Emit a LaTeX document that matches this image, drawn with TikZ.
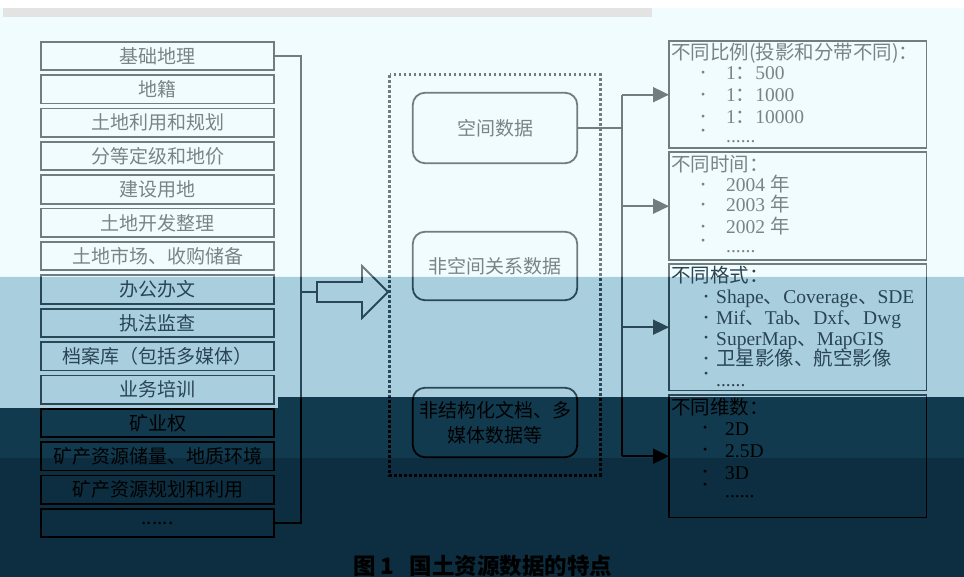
\documentclass[tikz,border=0pt]{standalone}
\usepackage{fontspec}
\setmainfont{Liberation Serif}
\newfontfamily\cjk{Noto Sans CJK SC}
\usetikzlibrary{arrows.meta}
\definecolor{bgA}{HTML}{F0FCFD}
\definecolor{bgB}{HTML}{A9CFDF}
\definecolor{bgC}{HTML}{113A4E}
\definecolor{bgD}{HTML}{0C2E40}
\definecolor{lnA}{HTML}{727D7F}
\definecolor{lnB}{HTML}{2A4755}
\definecolor{lnC}{HTML}{000000}
\definecolor{txA}{HTML}{7A8486}
\definecolor{txB}{HTML}{2A4452}
\definecolor{txC}{HTML}{000000}
\definecolor{strip}{HTML}{E3E3E3}
\colorlet{ln}{lnA}
\newcommand\mydots{......}
\newcommand\bul[1]{\makebox[#1][l]{\raisebox{0.16em}{\scalebox{0.6}{\textbullet}}}}
\begin{document}
\begin{tikzpicture}[x=1pt,y=-1pt,
 lbox/.style={minimum width=233pt, minimum height=28pt, inner sep=0pt, font=\cjk\fontsize{19}{21}\selectfont},
 sbox/.style={minimum width=164pt, inner sep=0pt, align=center, font=\cjk\fontsize{19}{25}\selectfont},
 pbox/.style={inner sep=0pt, minimum width=257pt, anchor=north west},
 tl/.style={anchor=base west, inner sep=0pt, font=\fontsize{19.5}{21}\selectfont},
 frame/.style={draw=ln, line width=1.8pt},
 conn/.style={draw=ln, line width=1.8pt},
 arr/.style={conn, -{Triangle[length=16pt,width=15pt]}},
 dots/.style={draw=ln, line width=3pt, dash pattern=on 2.8pt off 2.2pt},
]
\useasboundingbox (0,0) rectangle (964,577);
% scan colour bands (background)
\fill[white] (0,0) rectangle (964,8);
\fill[bgA] (0,8) rectangle (964,277);
\fill[bgB] (0,277) -- (964,277) -- (964,397) -- (278,397) -- (278,408) -- (0,408) -- cycle;
\fill[bgC] (0,408) -- (278,408) -- (278,397) -- (964,397) -- (964,458) -- (0,458) -- cycle;
\fill[bgD] (0,458) rectangle (964,577);
\fill[strip] (3,8) rectangle (652,17);

% left column of boxes
\foreach \t [count=\i] in {基础地理,地籍,土地利用和规划,分等定级和地价,建设用地,土地开发整理,土地市场、收购储备}
  \node[lbox, text=txA] (b\i) at (157.5,{56+33.36*(\i-1)}) {\t};
\foreach \t [count=\i from 8] in {办公办文,执法监查,档案库（包括多媒体）,业务培训}
  \node[lbox, text=txB] (b\i) at (157.5,{56+33.36*(\i-1)}) {\t};
\foreach \t [count=\i from 12] in {矿业权,矿产资源储量、地质环境,矿产资源规划和利用,\mydots}
  \node[lbox, text=txC] (b\i) at (157.5,{56+33.36*(\i-1)}) {\t};

\coordinate (ba) at (301,292);
\coordinate (bb) at (317,292);

% group of data types
\node[minimum width=210pt, minimum height=400pt, inner sep=0pt] (grp) at (495,275) {};
\node[sbox, minimum height=70pt, text=txA] (s1) at (495,128) {空间数据};
\node[sbox, minimum height=68pt, text=txA] (s2) at (495,266) {非空间关系数据};
\node[sbox, minimum height=69pt, text=txC] (s3) at (495,422.5) {非结构化文档、多\\媒体数据等};

% right boxes
\node[pbox, minimum height=107pt] (rA) at (669,41) {};
\node[pbox, minimum height=108pt] (rB) at (669,152) {};
\node[pbox, minimum height=126pt] (rC) at (669,264) {};
\node[pbox, minimum height=122pt] (rD) at (669,395) {};
\coordinate (bus) at (622,0);

\newcommand\lineart{%
  \foreach \i in {1,...,15} \draw[frame] (b\i.north west) rectangle (b\i.south east);
  \draw[conn] (b1.east) -- ++(27,0) |- (b15.east);
  \draw[conn] (ba) -- (bb);
  \draw[conn, line join=miter] (bb) ++(0,-10) -- ++(45,0) -- ++(0,-16) -- ++(26,26) -- ++(-26,26) -- ++(0,-16) -- ++(-45,0) -- cycle;
  \draw[dots] (grp.north west) rectangle (grp.south east);
  \foreach \s in {s1,s2,s3} \draw[frame, rounded corners=12pt] (\s.north west) rectangle (\s.south east);
  \foreach \r in {rA,rB,rC,rD} \draw[frame] (\r.north west) rectangle (\r.south east);
  \draw[conn] (s1.east) -- (s1.east -| bus);
  \draw[conn] (rA.west -| bus) -- (rD.west -| bus);
  \foreach \r in {rA,rB,rC,rD} \draw[arr] (\r.west -| bus) -- (\r.west);
}
\begin{scope}
  \colorlet{ln}{lnA}
  \clip (0,0) rectangle (964,277);
  \lineart
\end{scope}
\begin{scope}
  \colorlet{ln}{lnB}
  \clip (0,277) -- (964,277) -- (964,397) -- (278,397) -- (278,408) -- (0,408) -- cycle;
  \lineart
\end{scope}
\begin{scope}
  \colorlet{ln}{lnC}
  \clip (0,408) -- (278,408) -- (278,397) -- (964,397) -- (964,577) -- (0,577) -- cycle;
  \lineart
\end{scope}

% texts of box A
\begin{scope}[every node/.append style={text=txA}]
\node[tl] (a0) at (671,60) {\cjk 不同比例(投影和分带不同)：};
\node[tl] (a1) at (701,80) {\bul{25pt}1{\cjk ：}500};
\node[tl] (a2) at (701,102) {\bul{25pt}1{\cjk ：}1000};
\node[tl] (a3) at (701,124) {\bul{25pt}1{\cjk ：}10000};
\node[tl] (a4) at (701,143) {\raisebox{0.3em}{\bul{25pt}}\mydots};
% box B
\node[tl] (bh) at (671,172) {\cjk 不同时间：};
\node[tl] (bl1) at (701,192) {\bul{25pt}2004 {\cjk 年}};
\node[tl] (bl2) at (701,212) {\bul{25pt}2003 {\cjk 年}};
\node[tl] (bl3) at (701,234) {\bul{25pt}2002 {\cjk 年}};
\node[tl] (bl4) at (701,253) {\raisebox{0.3em}{\bul{25pt}}\mydots};
\end{scope}
% box C
\begin{scope}[every node/.append style={text=txB}]
\node[tl] (ch) at (671,283) {\cjk 不同格式：};
\node[tl] (c1) at (704,304) {\bul{12pt}Shape{\cjk 、}Coverage{\cjk 、}SDE};
\node[tl] (c2) at (704,325) {\bul{12pt}Mif{\cjk 、}Tab{\cjk 、}Dxf{\cjk 、}Dwg};
\node[tl] (c3) at (704,345) {\bul{12pt}SuperMap{\cjk 、}MapGIS};
\node[tl] (c4) at (704,366) {\bul{12pt}{\cjk 卫星影像、航空影像}};
\node[tl] (c5) at (704,386) {\raisebox{0.3em}{\bul{12pt}}\mydots};
\end{scope}
% box D
\begin{scope}[every node/.append style={text=txC}]
\node[tl] (dh) at (671,414) {\cjk 不同维数：};
\node[tl] (d1) at (703,435) {\bul{22pt}2D};
\node[tl] (d2) at (703,457) {\bul{22pt}2.5D};
\node[tl] (d3) at (703,479) {\bul{22pt}3D};
\node[tl] (d4) at (703,497) {\raisebox{0.3em}{\bul{22pt}}\mydots};
% caption
\node[font=\cjk\bfseries\fontsize{22.5}{22.5}\selectfont, inner sep=0pt] (cap) at (483,566) {图\,1\hspace{16pt}国土资源数据的特点};
\end{scope}
\end{tikzpicture}
\end{document}
